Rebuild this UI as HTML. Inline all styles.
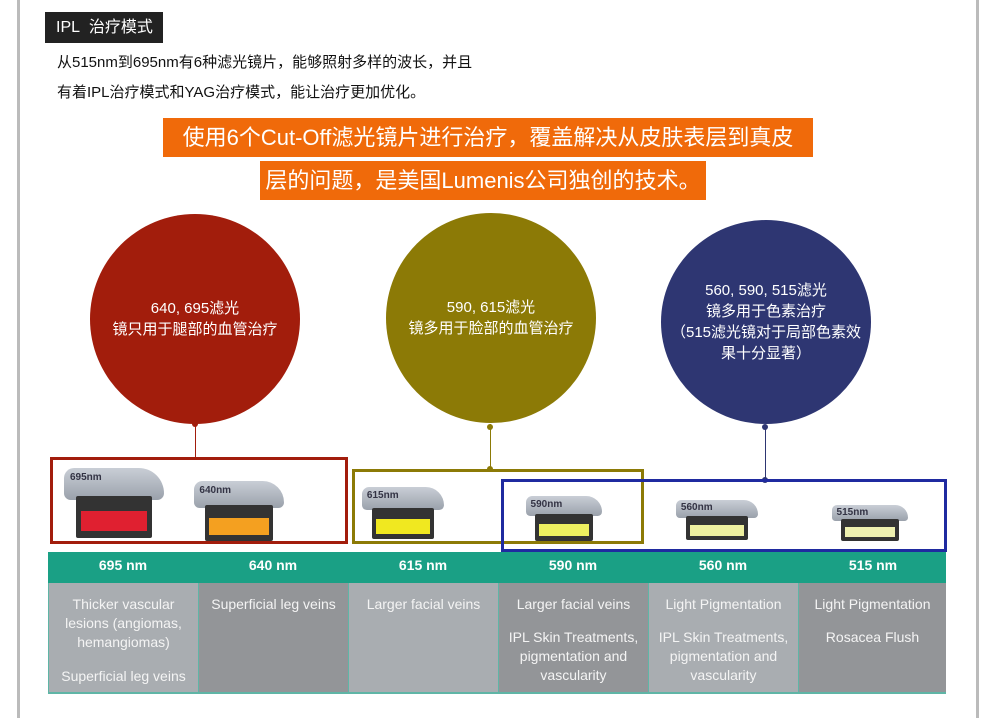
<!DOCTYPE html>
<html><head><meta charset="utf-8"><style>
*{margin:0;padding:0;box-sizing:border-box}
body{width:1000px;height:718px;background:#fff;position:relative;overflow:hidden;font-family:"Liberation Sans","Noto Sans CJK SC",sans-serif}
.a{position:absolute}
.circ{position:absolute;border-radius:50%;color:#fff;text-align:center;display:flex;flex-direction:column;justify-content:center;font-size:15px;line-height:21px}
.ln{position:absolute;width:1px}
.dot{position:absolute;width:6px;height:6px;border-radius:50%}
.th{position:absolute;top:549px;height:34px;width:150px;color:#fff;font-weight:bold;font-size:14px;text-align:center;line-height:33px}
.td{position:absolute;top:583px;height:110px;width:150px;color:#f4f4f4;font-size:14px;text-align:center;line-height:19px;padding-top:12px;border-left:1px solid #5fb5a6}
.f{position:absolute}
.f .top{position:absolute;left:0;top:0;width:100%;height:45%;background:linear-gradient(#c9ced6,#9aa1ab);border-radius:12px 30px 8px 8px}
.f .bot{position:absolute;left:12%;top:40%;width:76%;height:60%;background:#333;border-radius:2px}
.f .col{position:absolute;left:17%;top:62%;width:66%;height:28%}
.f .lab{position:absolute;left:6%;top:6%;font-size:10px;font-weight:bold;color:#334}
</style></head><body>
<div class="a" style="left:17px;top:0;width:3px;height:718px;background:#bbb"></div>
<div class="a" style="left:976px;top:0;width:3px;height:718px;background:#bbb"></div>
<div class="a" style="left:45px;top:12px;width:118px;height:31px;background:#222;color:#fff;font-size:16px;line-height:31px;padding-left:11px">IPL&nbsp; 治疗模式</div>
<div class="a" style="left:57px;top:48px;font-size:15px;line-height:30px;color:#111">从515nm到695nm有6种滤光镜片，能够照射多样的波长，并且<br>有着IPL治疗模式和YAG治疗模式，能让治疗更加优化。</div>
<div class="a" style="left:163px;top:118px;width:650px;height:39px;background:#f06a0a;color:#fff;font-size:22px;line-height:39px;text-align:center">使用6个Cut-Off滤光镜片进行治疗，覆盖解决从皮肤表层到真皮</div>
<div class="a" style="left:260px;top:161px;width:446px;height:39px;background:#f06a0a;color:#fff;font-size:22px;line-height:39px;text-align:center">层的问题，是美国Lumenis公司独创的技术。</div>

<div class="circ" style="left:90px;top:214px;width:210px;height:210px;background:#a21d0c"><div>640, 695滤光<br>镜只用于腿部的血管治疗</div></div>
<div class="circ" style="left:386px;top:213px;width:210px;height:210px;background:#8c7a06"><div>590, 615滤光<br>镜多用于脸部的血管治疗</div></div>
<div class="circ" style="left:661px;top:220px;width:210px;height:204px;background:#2e3672"><div>560, 590, 515滤光<br>镜多用于色素治疗<br>（515滤光镜对于局部色素效<br>果十分显著）</div></div>

<div class="ln" style="left:195px;top:424px;height:34px;background:#a21d0c"></div>
<div class="dot" style="left:192px;top:421px;background:#a21d0c"></div>
<div class="ln" style="left:490px;top:424px;height:46px;background:#8c7a06"></div>
<div class="dot" style="left:487px;top:424px;background:#8c7a06"></div>
<div class="dot" style="left:487px;top:466px;background:#8c7a06"></div>
<div class="ln" style="left:765px;top:426px;height:54px;background:#2e3672"></div>
<div class="dot" style="left:762px;top:424px;background:#2e3672"></div>
<div class="dot" style="left:762px;top:477px;background:#2e3672"></div>

<div class="f" style="left:64px;top:468px;width:100px;height:70px"><div class="top"></div><div class="bot"></div><div class="col" style="background:#e02030"></div><div class="lab">695nm</div></div>
<div class="f" style="left:194px;top:481px;width:90px;height:60px"><div class="top"></div><div class="bot"></div><div class="col" style="background:#f4a020"></div><div class="lab">640nm</div></div>
<div class="f" style="left:362px;top:487px;width:82px;height:52px"><div class="top"></div><div class="bot"></div><div class="col" style="background:#f0e820"></div><div class="lab">615nm</div></div>
<div class="f" style="left:526px;top:496px;width:76px;height:45px"><div class="top"></div><div class="bot"></div><div class="col" style="background:#eef060"></div><div class="lab">590nm</div></div>
<div class="f" style="left:676px;top:500px;width:82px;height:40px"><div class="top"></div><div class="bot"></div><div class="col" style="background:#eef0a0"></div><div class="lab">560nm</div></div>
<div class="f" style="left:832px;top:505px;width:76px;height:36px"><div class="top"></div><div class="bot"></div><div class="col" style="background:#eef0b0"></div><div class="lab">515nm</div></div>

<div class="a" style="left:50px;top:457px;width:298px;height:87px;border:3px solid #a21d0c"></div>
<div class="a" style="left:352px;top:469px;width:292px;height:75px;border:3px solid #8c7a06"></div>
<div class="a" style="left:501px;top:479px;width:446px;height:73px;border:3px solid #1f2aa0"></div>

<div class="a" style="left:48px;top:552px;width:898px;height:32px;background:#1aa085"></div>
<div class="th" style="left:48px">695 nm</div>
<div class="th" style="left:198px">640 nm</div>
<div class="th" style="left:348px">615 nm</div>
<div class="th" style="left:498px">590 nm</div>
<div class="th" style="left:648px">560 nm</div>
<div class="th" style="left:798px">515 nm</div>

<div class="td" style="left:48px;background:#a9adb1">Thicker vascular<br>lesions (angiomas,<br>hemangiomas)<div style="height:15px"></div>Superficial leg veins</div>
<div class="td" style="left:198px;background:#939598">Superficial leg veins</div>
<div class="td" style="left:348px;background:#a9adb1">Larger facial veins</div>
<div class="td" style="left:498px;background:#939598">Larger facial veins<div style="height:14px"></div>IPL Skin Treatments,<br>pigmentation and<br>vascularity</div>
<div class="td" style="left:648px;background:#a9adb1">Light Pigmentation<div style="height:14px"></div>IPL Skin Treatments,<br>pigmentation and<br>vascularity</div>
<div class="td" style="left:798px;width:148px;background:#939598">Light Pigmentation<div style="height:14px"></div>Rosacea Flush</div>
<div class="a" style="left:48px;top:692px;width:898px;height:2px;background:#5fb5a6"></div>
</body></html>
